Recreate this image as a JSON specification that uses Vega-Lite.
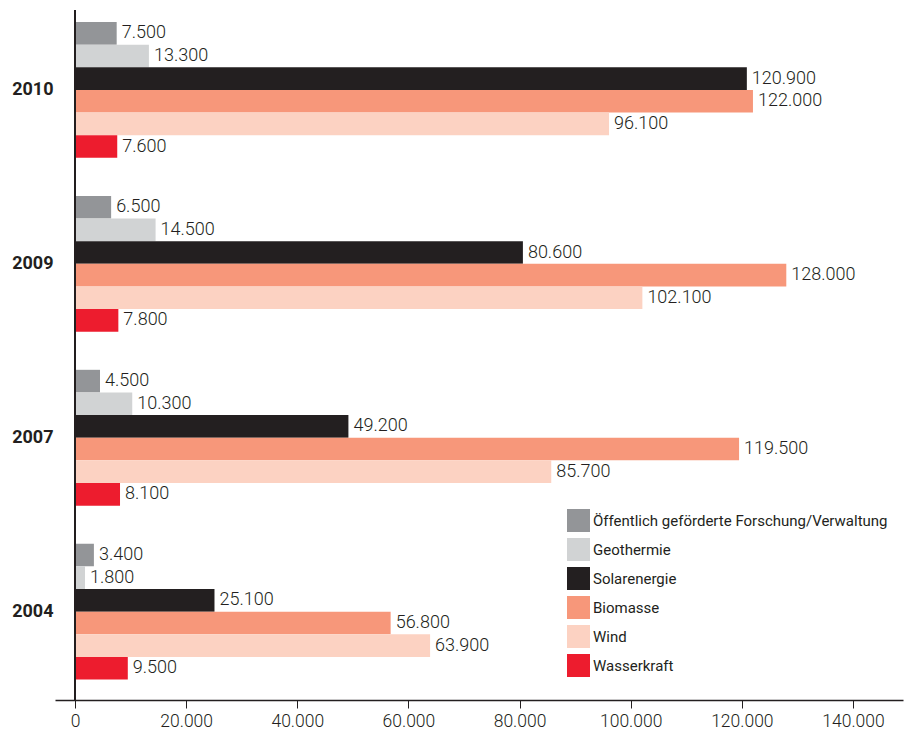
{
  "$schema": "https://vega.github.io/schema/vega-lite/v6.json",
  "width": 848,
  "height": 690,
  "autosize": "none",
  "padding": {"left": 55, "top": 10, "right": 1, "bottom": 33},
  "config": {
    "view": {"stroke": null},
    "font": "Roboto",
    "locale": {"number": {"decimal": ",", "thousands": ".", "grouping": [3], "currency": ["", " €"]}}
  },
  "data": {
    "values": [
      {"Jahr": "2010", "Sparte": "Öffentlich geförderte Forschung/Verwaltung", "Wert": 7500},
      {"Jahr": "2010", "Sparte": "Geothermie", "Wert": 13300},
      {"Jahr": "2010", "Sparte": "Solarenergie", "Wert": 120900},
      {"Jahr": "2010", "Sparte": "Biomasse", "Wert": 122000},
      {"Jahr": "2010", "Sparte": "Wind", "Wert": 96100},
      {"Jahr": "2010", "Sparte": "Wasserkraft", "Wert": 7600},
      {"Jahr": "2009", "Sparte": "Öffentlich geförderte Forschung/Verwaltung", "Wert": 6500},
      {"Jahr": "2009", "Sparte": "Geothermie", "Wert": 14500},
      {"Jahr": "2009", "Sparte": "Solarenergie", "Wert": 80600},
      {"Jahr": "2009", "Sparte": "Biomasse", "Wert": 128000},
      {"Jahr": "2009", "Sparte": "Wind", "Wert": 102100},
      {"Jahr": "2009", "Sparte": "Wasserkraft", "Wert": 7800},
      {"Jahr": "2007", "Sparte": "Öffentlich geförderte Forschung/Verwaltung", "Wert": 4500},
      {"Jahr": "2007", "Sparte": "Geothermie", "Wert": 10300},
      {"Jahr": "2007", "Sparte": "Solarenergie", "Wert": 49200},
      {"Jahr": "2007", "Sparte": "Biomasse", "Wert": 119500},
      {"Jahr": "2007", "Sparte": "Wind", "Wert": 85700},
      {"Jahr": "2007", "Sparte": "Wasserkraft", "Wert": 8100},
      {"Jahr": "2004", "Sparte": "Öffentlich geförderte Forschung/Verwaltung", "Wert": 3400},
      {"Jahr": "2004", "Sparte": "Geothermie", "Wert": 1800},
      {"Jahr": "2004", "Sparte": "Solarenergie", "Wert": 25100},
      {"Jahr": "2004", "Sparte": "Biomasse", "Wert": 56800},
      {"Jahr": "2004", "Sparte": "Wind", "Wert": 63900},
      {"Jahr": "2004", "Sparte": "Wasserkraft", "Wert": 9500}
    ]
  },
  "layer": [
    {
      "mark": {"type": "bar"},
      "encoding": {
        "y": {
          "field": "Jahr", "type": "nominal",
          "sort": ["2010", "2009", "2007", "2004"],
          "scale": {"paddingInner": 0.219, "paddingOuter": 0.0934, "align": 0.37},
          "axis": {
            "title": null, "domain": false, "ticks": false,
            "labelFontSize": 18, "labelFontWeight": "bold", "labelColor": "#231f20",
            "labelPadding": 2,
            "encode": {"labels": {"update": {"dy": {"signal": "datum.value == '2010' ? -34 : datum.value == '2009' ? -19 : datum.value == '2007' ? -4 : 11"}}}}
          }
        },
        "yOffset": {
          "field": "Sparte", "type": "nominal",
          "sort": ["Öffentlich geförderte Forschung/Verwaltung", "Geothermie", "Solarenergie", "Biomasse", "Wind", "Wasserkraft"],
          "scale": {"paddingInner": 0, "paddingOuter": 0}
        },
        "x": {
          "field": "Wert", "type": "quantitative",
          "scale": {"domain": [-3600, 149000], "nice": false, "zero": false},
          "axis": {
            "title": null, "grid": false,
            "values": [0, 20000, 40000, 60000, 80000, 100000, 120000, 140000],
            "labelExpr": "replace(format(datum.value, ',d'), ',', '.')",
            "labelFlush": false, "labelOverlap": false,
            "tickSize": 8, "tickColor": "#231f20", "tickWidth": 1,
            "domainColor": "#231f20", "domainWidth": 1.5,
            "labelFontSize": 17.5, "labelFontWeight": 300, "labelColor": "#231f20", "labelPadding": 4
          }
        },
        "x2": {"datum": 0},
        "color": {
          "field": "Sparte", "type": "nominal",
          "scale": {
            "domain": ["Öffentlich geförderte Forschung/Verwaltung", "Geothermie", "Solarenergie", "Biomasse", "Wind", "Wasserkraft"],
            "range": ["#939598", "#d1d3d4", "#231f20", "#f7977a", "#fcd2c2", "#ed1c2e"]
          },
          "legend": {
            "title": null, "orient": "none", "legendX": 512, "legendY": 499,
            "symbolType": "square", "symbolSize": 529, "symbolStrokeWidth": 0,
            "labelFontSize": 15, "labelColor": "#231f20", "labelOffset": 3,
            "rowPadding": 6, "labelLimit": 400
          }
        }
      }
    },
    {
      "mark": {"type": "text", "align": "left", "baseline": "middle", "dx": 5, "fontSize": 18, "fontWeight": 300, "color": "#231f20"},
      "encoding": {
        "y": {"field": "Jahr", "type": "nominal", "sort": ["2010", "2009", "2007", "2004"]},
        "yOffset": {"field": "Sparte", "type": "nominal", "sort": ["Öffentlich geförderte Forschung/Verwaltung", "Geothermie", "Solarenergie", "Biomasse", "Wind", "Wasserkraft"]},
        "x": {"field": "Wert", "type": "quantitative"},
        "text": {"field": "Wert", "type": "quantitative", "format": ","}
      }
    },
    {
      "mark": {"type": "rule", "color": "#231f20", "strokeWidth": 1.5},
      "encoding": {"x": {"datum": 0}}
    }
  ]
}
